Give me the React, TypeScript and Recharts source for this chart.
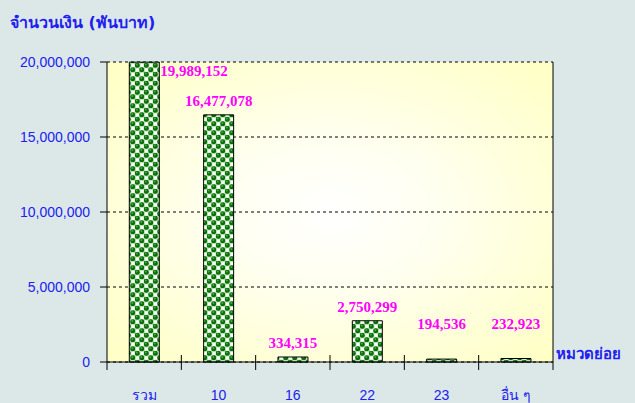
import React from 'react';
import { BarChart, Bar, XAxis, YAxis, CartesianGrid, LabelList } from 'recharts';

const categories = ['รวม', '10', '16', '22', '23', 'อื่น ๆ'];
const amounts = [19989152, 16477078, 334315, 2750299, 194536, 232923];
const yTicks = [0, 5000000, 10000000, 15000000, 20000000];

const data = categories.map((name, i) => ({ name, amount: amounts[i] }));

const W = 635;
const H = 403;
const left = 107;
const right = 82;
const plotW = W - left - right;
const band = plotW / categories.length;
const blue = '#2020f0';
const sans = "Arial, 'Liberation Sans', sans-serif";

const fmt = (v: number) => v.toLocaleString('en-US');

const XTick = (props: any) => {
  const { x, y, payload, index } = props;
  const lx = x - band / 2;
  return (
    <g>
      <line x1={lx} x2={lx} y1={index === 0 ? y : y - 7} y2={y + 8} stroke="#000" />
      {index === categories.length - 1 && (
        <line x1={x + band / 2} x2={x + band / 2} y1={y} y2={y + 8} stroke="#000" />
      )}
      <text x={x} y={y + 38} textAnchor="middle" fill={blue} fontSize={14} fontFamily={sans}>
        {payload.value}
      </text>
    </g>
  );
};

const ValueLabel = (props: any) => {
  const { x, y, width, value, index } = props;
  const style = { fill: '#ff00ff', fontSize: 15, fontWeight: 'bold', fontFamily: "'Liberation Serif', 'Times New Roman', serif" } as const;
  if (index === 0) {
    return <text x={x + width + 1} y={y + 14} {...style}>{fmt(value)}</text>;
  }
  const lift = index >= 4 ? 30 : 9;
  return <text x={x + width / 2} y={y - lift} textAnchor="middle" {...style}>{fmt(value)}</text>;
};

const App = () => {
  return (
    <div style={{ position: 'relative', width: W, height: H, background: '#dce8e8', overflow: 'hidden' }}>
      <style>{`body { margin: 0; }`}</style>
      <div style={{ position: 'absolute', left: 10, top: 10, color: blue, fontWeight: 'bold', fontSize: 16, fontFamily: "Tahoma, 'DejaVu Sans', sans-serif" }}>
        จำนวนเงิน (พันบาท)
      </div>
      <div style={{ position: 'absolute', left: 556, top: 342, color: blue, fontWeight: 'bold', fontSize: 15, fontFamily: "Tahoma, 'DejaVu Sans', sans-serif" }}>
        หมวดย่อย
      </div>
      <BarChart width={W} height={H} data={data} margin={{ top: 62, right: 0, left: 0, bottom: 0 }} barCategoryGap="30%">
        <defs>
          <radialGradient id="plotBg" cx="0.5" cy="0.5" r="0.7">
            <stop offset="0%" stopColor="#ffffff" />
            <stop offset="35%" stopColor="#fffff0" />
            <stop offset="100%" stopColor="#ffffc4" />
          </radialGradient>
          <pattern id="balls" width="9" height="9" patternUnits="userSpaceOnUse">
            <rect width="9" height="9" fill="#b4e4ac" />
            <rect x="5.5" y="1" width="3" height="3" fill="#ffffff" />
            <rect x="1" y="5.5" width="3" height="3" fill="#ffffff" />
            <circle cx="2.25" cy="2.25" r="2.5" fill="#0c6c0c" />
            <circle cx="6.75" cy="6.75" r="2.5" fill="#0c6c0c" />
            <circle cx="1.8" cy="1.6" r="1" fill="#48a848" />
            <circle cx="6.3" cy="6.1" r="1" fill="#48a848" />
          </pattern>
        </defs>
        <CartesianGrid yAxisId="l" vertical={false} stroke="#000" strokeDasharray="3 3" fill="url(#plotBg)" fillOpacity={1} />
        <XAxis
          dataKey="name"
          height={41}
          axisLine={{ stroke: '#000' }}
          tickLine={false}
          tickSize={0}
          tickMargin={0}
          interval={0}
          tick={<XTick />}
        />
        <YAxis
          yAxisId="l"
          width={left}
          domain={[0, 20000000]}
          ticks={yTicks}
          tickFormatter={fmt}
          axisLine={{ stroke: '#000' }}
          tickLine={{ stroke: '#000' }}
          tickSize={7}
          tickMargin={10}
          tick={{ fill: blue, fontSize: 14, fontFamily: sans }}
        />
        <YAxis yAxisId="r" orientation="right" width={right} tick={false} tickLine={false} axisLine={{ stroke: '#000' }} />
        <Bar yAxisId="l" dataKey="amount" fill="url(#balls)" stroke="#000" strokeWidth={1} isAnimationActive={false}>
          <LabelList dataKey="amount" content={<ValueLabel />} />
        </Bar>
      </BarChart>
    </div>
  );
};

export default App;
